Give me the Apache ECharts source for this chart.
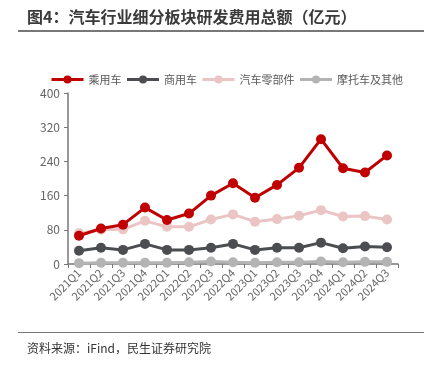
<!DOCTYPE html>
<html lang="zh">
<head>
<meta charset="utf-8">
<title>汽车行业细分板块研发费用总额</title>
<script src="https://cdn.jsdelivr.net/npm/echarts@6/dist/echarts.min.js"></script>
<style>
  html, body { margin: 0; padding: 0; background: #fff; }
  #main { width: 432px; height: 368px; }
</style>
</head>
<body>
<div id="main"></div>
<script>
// 季度
var quarters = ['2021Q1', '2021Q2', '2021Q3', '2021Q4', '2022Q1', '2022Q2', '2022Q3', '2022Q4',
  '2023Q1', '2023Q2', '2023Q3', '2023Q4', '2024Q1', '2024Q2', '2024Q3'];
// 各板块研发费用（亿元）
var passenger = [66, 83, 92, 132, 103, 118, 160, 189, 155, 185, 225, 292, 224, 214, 254];
var commercial = [31, 38, 33, 47, 33, 33, 38, 47, 33, 38, 38, 50, 37, 41, 39];
var parts = [72, 80, 81, 101, 87, 87, 104, 116, 99, 105, 113, 126, 111, 112, 104];
var moto = [2, 3, 3, 3, 3, 4, 6, 4, 3, 4, 4, 6, 4, 5, 5];
var yTicks = [0, 80, 160, 240, 320, 400];

var font = '"Microsoft YaHei", "Noto Sans CJK SC", sans-serif';

function line(name, data, color, z) {
  return {
    name: name,
    type: 'line',
    data: data,
    z: z,
    symbol: 'circle',
    symbolSize: 10,
    lineStyle: { width: 3, color: color },
    itemStyle: { color: color },
    animation: false
  };
}

var myChart = echarts.init(document.getElementById('main'));
var option = {
  textStyle: { fontFamily: font },
  title: {
    text: '图4：汽车行业细分板块研发费用总额（亿元）',
    left: 22, top: 4,
    textStyle: { fontSize: 16, fontWeight: 'bold', color: '#3a3a3a', fontFamily: font }
  },
  graphic: [
    { type: 'rect', shape: { x: 18, y: 30, width: 406, height: 2 }, style: { fill: '#777' } },
    { type: 'rect', shape: { x: 18, y: 332, width: 406, height: 1 }, style: { fill: '#777' } },
    { type: 'text', left: 27, top: 342, style: { text: '资料来源：iFind，民生证券研究院', fontSize: 12, fill: '#333', fontFamily: font } }
  ],
  legend: {
    top: 69, left: 45,
    itemWidth: 32, itemHeight: 10, itemGap: 4,
    lineStyle: { width: 3 },
    textStyle: { fontSize: 11, color: '#595959', fontFamily: font },
    data: ['乘用车', '商用车', '汽车零部件', '摩托车及其他']
  },
  grid: { left: 68, right: 34, top: 93, bottom: 104, containLabel: false },
  xAxis: {
    type: 'category',
    data: quarters,
    boundaryGap: true,
    axisLine: { lineStyle: { color: '#777', width: 1.5 } },
    axisTick: { show: true, length: 4, lineStyle: { color: '#777' } },
    axisLabel: { rotate: 45, fontSize: 11, color: '#666', margin: 7, fontFamily: font }
  },
  yAxis: {
    type: 'value',
    min: yTicks[0], max: yTicks[yTicks.length - 1], interval: 80,
    axisLine: { show: true, lineStyle: { color: '#777', width: 1.5 } },
    axisTick: { show: true, length: 4, lineStyle: { color: '#777' } },
    splitLine: { show: false },
    axisLabel: { fontSize: 12, color: '#666', margin: 8, fontFamily: font }
  },
  series: [
    line('乘用车', passenger, '#C00000', 5),
    line('商用车', commercial, '#4B4D50', 3),
    line('汽车零部件', parts, '#EBC4C4', 2),
    line('摩托车及其他', moto, '#B4B4B4', 4)
  ]
};
myChart.setOption(option);
</script>
</body>
</html>
